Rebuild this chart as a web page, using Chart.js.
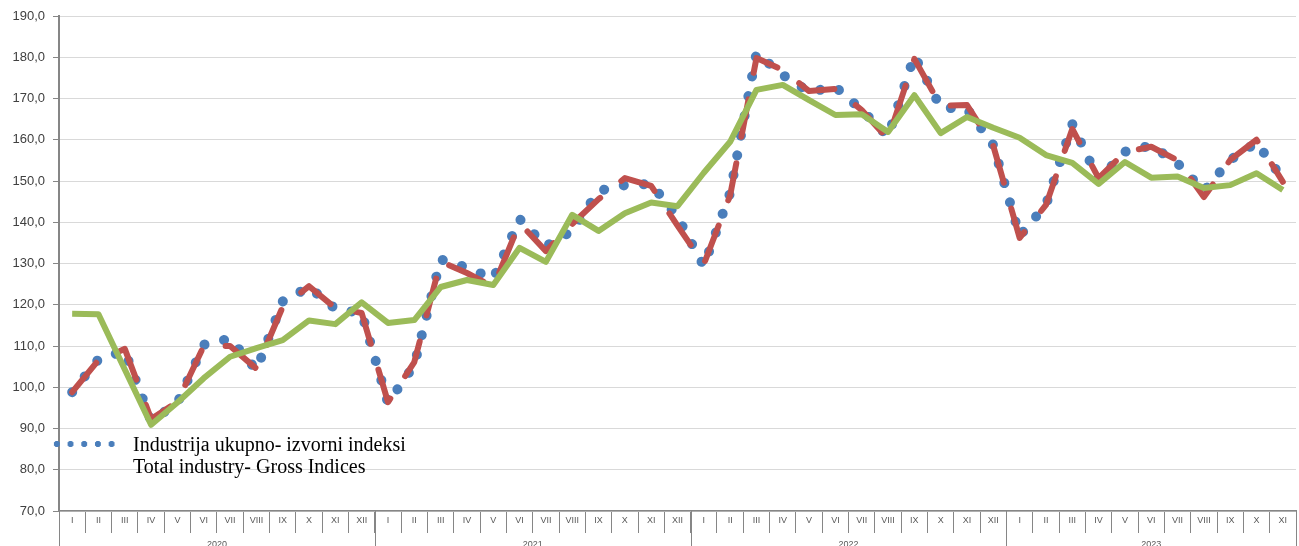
<!DOCTYPE html>
<html>
<head>
<meta charset="utf-8">
<script src="https://cdn.jsdelivr.net/npm/chart.js@4/dist/chart.umd.min.js"></script>
<style>
  html, body { margin: 0; padding: 0; background: #fff; }
  #wrap { position: relative; width: 1299px; height: 546px; overflow: hidden; }
  #legend { position: absolute; left: 50px; top: 433px; font: 20px 'Liberation Serif', serif; line-height: 22px; color: #000; pointer-events: none; }
  #legend .dots { position: absolute; left: 0; top: 8px; width: 68.5px; height: 6px;
    background-image: radial-gradient(circle, #4A7EBB 2.8px, rgba(74,126,187,0) 3.4px);
    background-size: 13.7px 6px; }
  #legend .txt { margin-left: 83px; white-space: nowrap; }
</style>
</head>
<body>
<div id="wrap">
  <canvas id="chart"></canvas>
  <div id="legend">
    <div class="dots"></div>
    <div class="txt">Industrija ukupno- izvorni indeksi<br>Total industry- Gross Indices</div>
  </div>
</div>
<script>
const months = ['I', 'II', 'III', 'IV', 'V', 'VI', 'VII', 'VIII', 'IX', 'X', 'XI', 'XII'];
const years = ['2020', '2021', '2022', '2023'];
const monthsPerYear = [12, 12, 12, 11];

// Industrija ukupno - izvorni indeksi (blue dotted)
const grossIndex = [
    98.8, 106.8, 108.8, 91.8, 96.2, 110.3, 111.8, 104.2, 120.8, 124.3, 119.0, 118.0,
    96.2, 105.4, 131.0, 129.0, 126.3, 140.8, 134.2, 137.9, 147.6, 149.0, 149.3, 141.3,
    129.4, 147.1, 181.0, 175.7, 171.6, 172.8, 167.2, 160.8, 180.4, 167.8, 167.5, 158.7,
    136.7, 144.2, 163.8, 150.3, 157.1, 158.6, 154.3, 147.6, 155.1, 159.3, 150.5
];
// red dashed series
const adjustedIndex = [
    98.8, 106.6, 109.3, 92.3, 96.5, 110.0, 110.0, 104.5, 119.5, 124.5, 119.2, 118.0,
    96.4, 106.1, 130.5, 127.7, 124.3, 139.8, 133.0, 139.6, 145.6, 150.7, 148.8, 139.2,
    129.8, 146.5, 179.8, 176.9, 171.8, 172.3, 167.2, 160.2, 179.6, 168.2, 168.4, 158.5,
    136.2, 144.2, 162.6, 150.7, 157.0, 158.3, 155.0, 146.1, 155.1, 160.0, 149.8
];
// green solid series
const seasonalIndex = [
    117.8, 117.7, 104.3, 90.9, 96.3, 102.2, 107.4, 109.5, 111.4, 116.2, 115.3, 120.6,
    115.6, 116.3, 124.3, 126.0, 124.8, 133.8, 130.4, 141.8, 137.9, 142.2, 144.8, 143.9,
    152.0, 159.5, 172.1, 173.3, 169.6, 166.0, 166.2, 161.9, 170.8, 161.6, 165.5, 162.9,
    160.5, 156.3, 154.4, 149.3, 154.6, 150.8, 151.1, 148.3, 149.0, 151.9, 147.8
];

const yMin = 70, yMax = 190, yStep = 10;

const labels = [];
monthsPerYear.forEach(n => { for (let m = 0; m < n; m++) labels.push(months[m]); });

// year row under the month labels
const yearRow = {
    id: 'yearRow',
    afterDraw(chart) {
        const ctx = chart.ctx;
        const xs = chart.scales.x;
        const half = (xs.getPixelForValue(1) - xs.getPixelForValue(0)) / 2;
        const bottom = chart.chartArea.bottom;
        let start = 0;
        ctx.save();
        ctx.strokeStyle = '#868686';
        ctx.lineWidth = 1;
        ctx.fillStyle = '#595959';
        ctx.font = '9px "Liberation Sans", Arial, sans-serif';
        ctx.textAlign = 'center';
        ctx.textBaseline = 'top';
        years.forEach((yr, i) => {
            const end = start + monthsPerYear[i] - 1;
            const x0 = xs.getPixelForValue(start) - half;
            const x1 = xs.getPixelForValue(end) + half;
            [x0, x1].forEach(x => {
                const px = Math.round(x) + 0.5;
                ctx.beginPath();
                ctx.moveTo(px, bottom);
                ctx.lineTo(px, chart.height);
                ctx.stroke();
            });
            ctx.fillText(yr, (x0 + x1) / 2, bottom + 29);
            start = end + 1;
        });
        ctx.restore();
    }
};

new Chart(document.getElementById('chart'), {
    type: 'line',
    data: {
        labels: labels,
        datasets: [
            {
                label: 'Industrija ukupno- izvorni indeksi',
                data: grossIndex,
                borderColor: '#4A7EBB',
                borderWidth: 10,
                borderDash: [0.1, 20],
                borderCapStyle: 'round',
                borderJoinStyle: 'round',
                pointRadius: 0,
                tension: 0,
                order: 3
            },
            {
                label: 'Desezonirani indeksi',
                data: adjustedIndex,
                borderColor: '#C0504D',
                borderWidth: 6,
                borderDash: [38, 27],
                borderCapStyle: 'round',
                borderJoinStyle: 'round',
                pointRadius: 0,
                tension: 0,
                order: 2
            },
            {
                label: 'Trend',
                data: seasonalIndex,
                borderColor: '#9BBB59',
                borderWidth: 6,
                borderJoinStyle: 'round',
                pointRadius: 0,
                tension: 0,
                order: 1
            }
        ]
    },
    options: {
        responsive: true,
        maintainAspectRatio: false,
        animation: false,
        layout: { padding: { top: 16, right: 3, left: 0, bottom: 0 } },
        plugins: { legend: { display: false }, tooltip: { enabled: false } },
        scales: {
            x: {
                offset: true,
                afterFit: s => { s.height = 35; },
                grid: {
                    display: true,
                    drawOnChartArea: false,
                    drawTicks: true,
                    tickLength: 22,
                    offset: true,
                    color: '#868686',
                    lineWidth: 1
                },
                border: { display: true, color: '#868686', width: 1.5 },
                ticks: {
                    autoSkip: false,
                    maxRotation: 0,
                    padding: -18,
                    color: '#595959',
                    font: { size: 9, family: '"Liberation Sans", Arial, sans-serif' }
                }
            },
            y: {
                min: yMin,
                max: yMax,
                afterFit: s => { s.width = 59; },
                grid: {
                    color: '#D9D9D9',
                    lineWidth: 1,
                    tickLength: 6,
                    tickColor: '#868686'
                },
                border: { display: true, color: '#868686', width: 2 },
                ticks: {
                    stepSize: yStep,
                    padding: 8,
                    color: '#404040',
                    font: { size: 13, family: '"Liberation Sans", Arial, sans-serif' },
                    callback: v => v.toFixed(1).replace('.', ',')
                }
            }
        }
    },
    plugins: [yearRow]
});
</script>
</body>
</html>
